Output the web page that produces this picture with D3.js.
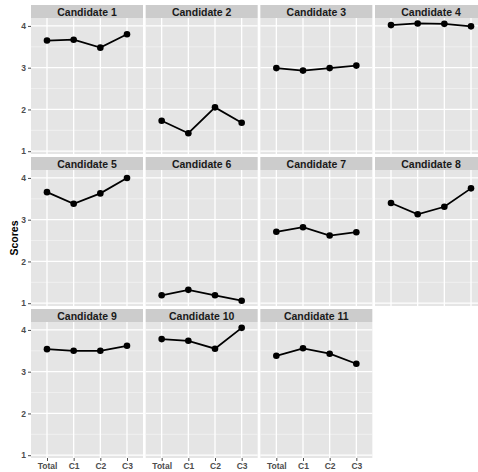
<!DOCTYPE html>
<html><head><meta charset="utf-8">
<script src="https://cdn.jsdelivr.net/npm/d3@7"></script>
<style>body{margin:0;background:#fff}svg{display:block}</style>
</head><body>
<script>
const categories = ["Total","C1","C2","C3"];
const candidates = ["Candidate 1","Candidate 2","Candidate 3","Candidate 4","Candidate 5","Candidate 6","Candidate 7","Candidate 8","Candidate 9","Candidate 10","Candidate 11"];
const scores = [
  [3.65,3.67,3.48,3.80],
  [1.73,1.43,2.05,1.68],
  [2.99,2.93,2.99,3.05],
  [4.02,4.06,4.05,3.99],
  [3.66,3.38,3.63,4.00],
  [1.19,1.32,1.19,1.06],
  [2.71,2.82,2.62,2.70],
  [3.40,3.13,3.31,3.75],
  [3.54,3.50,3.50,3.62],
  [3.78,3.74,3.55,4.05],
  [3.38,3.56,3.43,3.19]
];
const yTicks = [1,2,3,4];
const yMinor = [1.5,2.5,3.5];
const yLabel = "Scores";

const W=478,H=472;
const svg=d3.select("body").append("svg").attr("width",W).attr("height",H);
const ncol=4;
const left0=31, colPitch=114.67, pw=112;
const top0=5, rowPitch=152, stripH=13, ph=136;
const x=d3.scalePoint().domain(categories).range([0,pw]).padding(0.6);
const y=d3.scaleLinear().domain([0.933,4.19]).range([ph,0]);
const font="'Liberation Sans', Arial, sans-serif";
const nrow=Math.ceil(candidates.length/ncol);

candidates.forEach((c,i)=>{
  const col=i%ncol,row=Math.floor(i/ncol);
  const px=left0+col*colPitch, sy=top0+row*rowPitch, py=sy+stripH;
  const g=svg.append("g");
  // strip
  g.append("rect").attr("x",px).attr("y",sy).attr("width",pw).attr("height",stripH).attr("fill","#cccccc");
  g.append("text").attr("x",px+pw/2).attr("y",sy+stripH/2+0.5).attr("text-anchor","middle").attr("dominant-baseline","central")
    .attr("font-family",font).attr("font-weight","bold").attr("font-size",10.5).attr("fill","#1a1a1a").text(c);
  const p=g.append("g").attr("transform",`translate(${px},${py})`);
  p.append("rect").attr("width",pw).attr("height",ph).attr("fill","#e5e5e5");
  p.selectAll(".mn").data(yMinor).join("line").attr("x1",0).attr("x2",pw).attr("y1",d=>y(d)).attr("y2",d=>y(d)).attr("stroke","#f2f2f2").attr("stroke-width",0.8);
  p.selectAll(".mj").data(yTicks).join("line").attr("x1",0).attr("x2",pw).attr("y1",d=>y(d)).attr("y2",d=>y(d)).attr("stroke","#ffffff").attr("stroke-width",1.3);
  p.selectAll(".vx").data(categories).join("line").attr("x1",d=>x(d)).attr("x2",d=>x(d)).attr("y1",0).attr("y2",ph).attr("stroke","#ffffff").attr("stroke-width",1.3);
  const vals=scores[i].map((v,k)=>({cat:categories[k],v}));
  p.append("path").datum(vals).attr("fill","none").attr("stroke","#000").attr("stroke-width",1.8)
    .attr("d",d3.line().x(d=>x(d.cat)).y(d=>y(d.v)));
  p.selectAll("circle").data(vals).join("circle").attr("cx",d=>x(d.cat)).attr("cy",d=>y(d.v)).attr("r",3.3).attr("fill","#000");
  // y axis
  if(col===0){
    const ya=p.append("g").call(d3.axisLeft(y).tickValues(yTicks).tickSize(3).tickPadding(2).tickFormat(d3.format("d")));
    ya.select(".domain").remove();
    ya.selectAll("line").attr("stroke","#4d4d4d");
    ya.selectAll("text").attr("font-family",font).attr("font-weight","bold").attr("font-size",8.5).attr("fill","#4d4d4d");
  }
  // x axis on last panel in each column
  const isBottom = (i+ncol>=candidates.length);
  if(isBottom && row===nrow-1){
    const xa=p.append("g").attr("transform",`translate(0,${ph})`).call(d3.axisBottom(x).tickSize(3).tickPadding(2));
    xa.select(".domain").remove();
    xa.selectAll("line").attr("stroke","#4d4d4d");
    xa.selectAll("text").attr("font-family",font).attr("font-weight","bold").attr("font-size",8.5).attr("fill","#4d4d4d");
  }
});
// y title
const midY=(top0+stripH + top0+2*rowPitch+stripH+ph)/2;
svg.append("text").attr("transform",`translate(14,${midY}) rotate(-90)`).attr("text-anchor","middle").attr("dominant-baseline","central")
  .attr("font-family",font).attr("font-weight","bold").attr("font-size",10.5).attr("fill","#000").text(yLabel);
</script>
</body></html>
